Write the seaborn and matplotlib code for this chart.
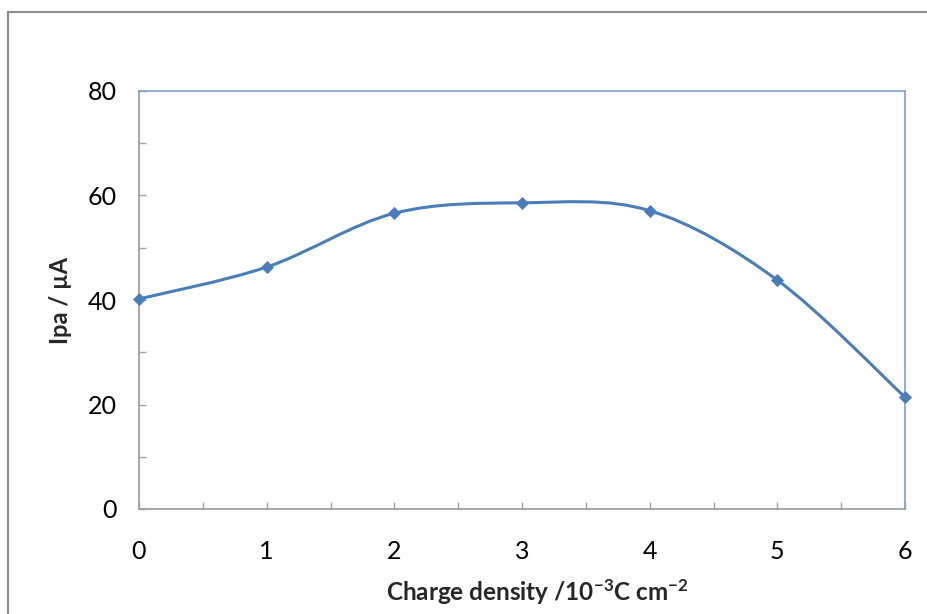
import numpy as np
import pandas as pd
import matplotlib
matplotlib.use('Agg')
import matplotlib.pyplot as plt
from matplotlib.path import Path
from matplotlib.patches import PathPatch, Rectangle
from matplotlib.ticker import MultipleLocator
import seaborn as sns

charge = [0, 1, 2, 3, 4, 5, 6]
ipa = [40.2, 46.3, 56.6, 58.6, 57.1, 43.8, 21.4]

sns.set_style('white')
plt.rcParams['font.family'] = ['Lato', 'DejaVu Sans']
plt.rcParams['mathtext.fontset'] = 'custom'
plt.rcParams['mathtext.bf'] = 'Lato:bold'
plt.rcParams['mathtext.rm'] = 'Lato'

blue = '#4a7ebb'
df = pd.DataFrame({'x': charge, 'y': ipa})

fig = plt.figure(figsize=(9.27, 6.14), dpi=100)
# outer chart border (only top/left visible in the crop)
fig.patches.append(Rectangle((8 / 927, -0.05), 1.0, 1 - 12 / 614 + 0.05,
                             transform=fig.transFigure, fill=False,
                             edgecolor='#8c8c8c', linewidth=1.5))
ax = fig.add_axes([139 / 927, 105 / 614, 766 / 927, 418 / 614])

# smoothed line, Excel-style bezier through the points
pts = df[['x', 'y']].to_numpy(dtype=float)
ext = np.vstack([pts[0], pts, pts[-1]])
verts = [tuple(pts[0])]
codes = [Path.MOVETO]
for i in range(1, len(ext) - 2):
    p0, p1, p2, p3 = ext[i - 1], ext[i], ext[i + 1], ext[i + 2]
    c1 = p1 + (p2 - p0) / 6
    c2 = p2 - (p3 - p1) / 6
    verts += [tuple(c1), tuple(c2), tuple(p2)]
    codes += [Path.CURVE4] * 3
ax.add_patch(PathPatch(Path(verts, codes), facecolor='none', edgecolor=blue,
                       linewidth=2.2, zorder=2, clip_on=False))

sns.scatterplot(data=df, x='x', y='y', marker='D', s=45, color=blue,
                edgecolor=blue, linewidth=0, ax=ax, zorder=3, clip_on=False)

ax.set_xlim(0, 6)
ax.set_ylim(0, 80)
ax.xaxis.set_major_locator(MultipleLocator(1))
ax.xaxis.set_minor_locator(MultipleLocator(0.5))
ax.yaxis.set_major_locator(MultipleLocator(20))
ax.yaxis.set_minor_locator(MultipleLocator(10))
ax.tick_params(axis='both', which='both', direction='in', length=5,
               width=1, color='#a0a0a0', bottom=True, left=True,
               top=False, right=False, labelcolor='black')
ax.tick_params(axis='x', which='major', labelsize=18, pad=22)
ax.tick_params(axis='y', which='major', labelsize=18, pad=16)

for s in ['left', 'bottom']:
    ax.spines[s].set_color('#a0a0a0')
    ax.spines[s].set_linewidth(1.3)
for s in ['top', 'right']:
    ax.spines[s].set_color('#7f9fd0')
    ax.spines[s].set_linewidth(1.2)

ax.set_xlabel(r'Charge density /10$\mathbf{^{-3}}$C cm$\mathbf{^{-2}}$',
              fontsize=17.5, fontweight='bold')
ax.set_ylabel('Ipa / µA', fontsize=17, fontweight='bold')
ax.xaxis.set_label_coords(0.52, -0.163)
ax.yaxis.set_label_coords(-0.088, 0.5)

fig.savefig('out.png', dpi=100)
